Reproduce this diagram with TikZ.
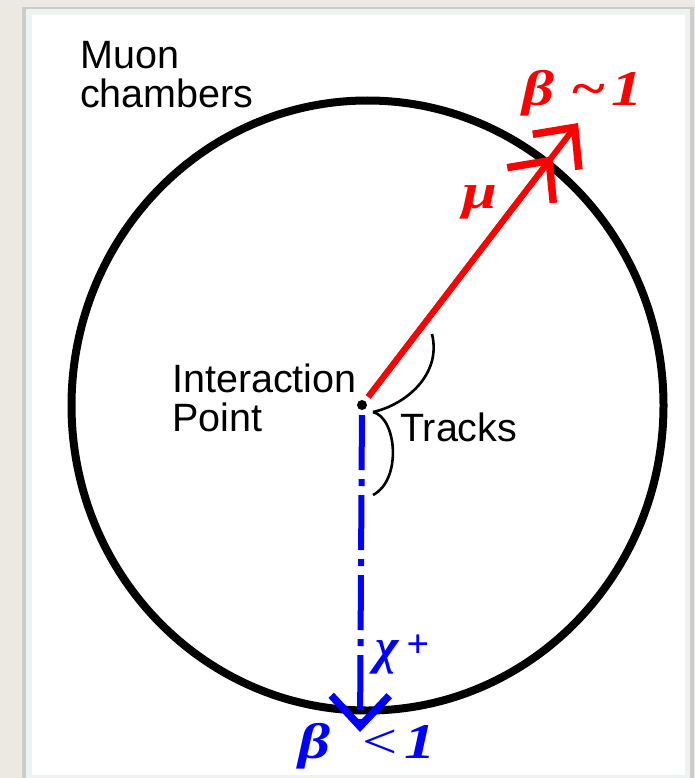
\documentclass[tikz,border=0pt]{standalone}
\usepackage{fontspec}
\setmainfont{Liberation Sans}
\newfontfamily\grkfont{Liberation Serif}[FakeStretch=1.25]
\newfontfamily\chifont{Liberation Serif}
\usetikzlibrary{arrows.meta,positioning,calc}
\definecolor{pagebg}{HTML}{ECE8E2}
\definecolor{panelrim}{HTML}{EEF2F1}
\tikzset{
  lbl/.style={inner sep=0pt, align=left, font=\fontsize{39.5}{39}\selectfont},
  redlbl/.style={inner sep=0pt, text=red, font=\grkfont\bfseries\itshape\fontsize{50}{52}\selectfont},
  bluelbl/.style={redlbl, text=blue},
  chilbl/.style={inner sep=0pt, text=blue, font=\chifont\bfseries\itshape\fontsize{50}{52}\selectfont},
  chamber/.style={draw=black, line width=8pt},
  barb/.style={-{Straight Barb[length=31pt,width=58pt,line width=7.5pt]}},
  mutrack/.style={draw=red, line width=6pt, shorten <=5pt, barb},
  chitrack/.style={draw=blue, line width=6pt, shorten <=5pt,
    dash pattern=on 55pt off 9pt on 7pt off 9pt, barb},
  bracearc/.style={draw=black, line width=2.6pt},
  ipdot/.style={circle, fill=black, inner sep=0pt, minimum size=10pt}
}

\begin{document}
\begin{tikzpicture}[x=1pt, y=-1pt]
  \useasboundingbox (0,0) rectangle (695,778);
  % page and panel
  \fill[pagebg] (0,0) rectangle (695,778);
  \fill[black!30, opacity=0.5] (22,7) rectangle (694,790);
  \fill[panelrim] (26,9) rectangle (690,790);
  \fill[white] (32,15) rectangle (685,775);

  \coordinate (ctr) at (367.5,405.5);
  \draw[chamber] (ctr) ellipse [x radius=296pt, y radius=305pt];

  \node[ipdot] (ip) at (362,405) {};
  \coordinate (mutip) at (578,123);
  \coordinate (mutip2) at ($(mutip)!42pt!(ip)$);
  \coordinate (chitip) at (360,732);
  \draw[mutrack] (ip) -- (mutip);
  \draw[mutrack] (ip) -- (mutip2);
  \draw[chitrack] (ip) -- (chitip);

  % braces
  \coordinate (brtip) at (373,412);
  \draw[bracearc] (brtip) .. controls (405,405) and (442,375) .. (432,334);
  \draw[bracearc] (brtip) .. controls (397,418) and (402,480) .. (373,495);

  \node[lbl, anchor=north west] (muonlbl) at (80,41) {Muon\\chambers};
  \node[lbl, anchor=north west] (iplbl) at (172,364) {Interaction\\Point};
  \node[lbl, anchor=north west] (trklbl) at (400,413) {Tracks};

  \node[redlbl, anchor=base west] (betamu) at (522,106) {β\hspace{16pt}\textasciitilde\hspace{6pt}1};
  \node[redlbl, anchor=base west] (mulbl) at (462,208) {μ};
  \node[chilbl, anchor=base west] (chilbl) at (375,663) {χ\hspace{8pt}\raisebox{6pt}{\fontsize{40}{40}\selectfont +}};
  \node[bluelbl, anchor=base west] (betachi) at (298,758) {β\hspace{28pt}{\mdseries<}\hspace{4pt}1};
\end{tikzpicture}
\end{document}
